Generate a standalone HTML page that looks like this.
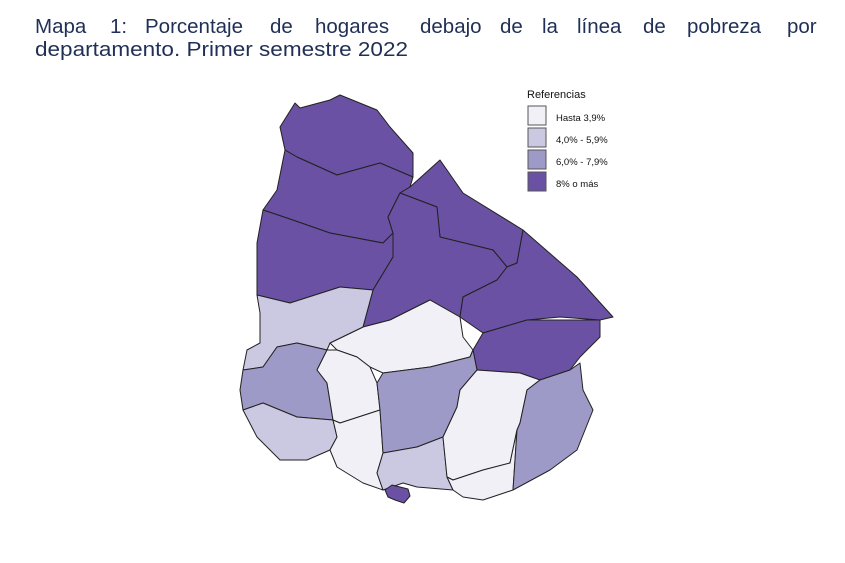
<!DOCTYPE html>
<html><head><meta charset="utf-8"><style>
html,body{margin:0;padding:0;background:#fff;}
svg{display:block;}
</style></head><body>
<svg width="845" height="563" viewBox="0 0 845 563" xmlns="http://www.w3.org/2000/svg">
<rect width="845" height="563" fill="#fff"/>
<g font-family="Liberation Sans, Arial, sans-serif" font-size="20.5" fill="#1f2f55">
<text x="35" y="33">Mapa</text>
<text x="110" y="33">1:</text>
<text x="145" y="33">Porcentaje</text>
<text x="270" y="33">de</text>
<text x="315" y="33">hogares</text>
<text x="420" y="33">debajo</text>
<text x="500" y="33">de</text>
<text x="542" y="33">la</text>
<text x="577" y="33">línea</text>
<text x="643" y="33">de</text>
<text x="687" y="33">pobreza</text>
<text x="787" y="33">por</text>
<text x="35" y="56" textLength="373" lengthAdjust="spacingAndGlyphs">departamento. Primer semestre 2022</text>
</g>
<g stroke="#222" stroke-width="1" stroke-linejoin="round">
<polygon fill="#6a51a3" points="295,103 300,108 330,100 340,95 377,110 390,127 413,153 413,177 380,163 337,175 297,157 285,150 280,127"/>
<polygon fill="#6a51a3" points="285,150 297,157 337,175 380,163 413,177 410,187 400,193 388,217 393,233 383,243 330,233 287,218 263,210 277,190"/>
<polygon fill="#6a51a3" points="263,210 287,218 330,233 383,243 393,233 393,257 373,290 340,287 290,303 257,295 257,243"/>
<polygon fill="#6a51a3" points="410,187 440,160 463,193 523,230 517,263 507,267 493,250 440,237 437,207 400,193"/>
<polygon fill="#6a51a3" points="400,193 437,207 440,237 493,250 507,267 497,280 463,297 460,317 430,300 390,320 363,327 373,290 393,257 393,233 388,217"/>
<polygon fill="#6a51a3" points="507,267 517,263 523,230 577,277 613,317 600,320 560,317 527,320 483,333 460,317 463,297 497,280"/>
<polygon fill="#6a51a3" points="483,333 527,320 600,320 600,337 580,357 570,370 540,380 520,373 477,370 473,350"/>
<polygon fill="#f2f0f7" points="330,343 363,327 390,320 430,300 460,317 463,337 473,350 470,357 430,367 383,373 370,367 357,357 337,350"/>
<polygon fill="#cbc9e2" points="257,295 290,303 340,287 373,290 363,327 330,343 327,350 297,343 277,347 263,367 243,370 247,350 260,343 260,313"/>
<polygon fill="#9e9ac8" points="243,370 263,367 277,347 297,343 327,350 317,370 327,383 333,420 297,417 263,403 243,410 240,390"/>
<polygon fill="#cbc9e2" points="243,410 263,403 297,417 333,420 337,437 330,450 307,460 280,460 257,437"/>
<polygon fill="#f2f0f7" points="327,350 337,350 357,357 370,367 377,383 380,410 340,423 333,420 327,383 317,370"/>
<polygon fill="#f2f0f7" points="333,420 340,423 380,410 383,453 377,473 383,490 363,483 337,467 330,450 337,437"/>
<polygon fill="#9e9ac8" points="377,383 383,373 430,367 470,357 473,350 477,370 460,390 457,407 443,437 417,447 383,453 380,410"/>
<polygon fill="#cbc9e2" points="383,453 417,447 443,437 447,477 453,490 417,487 403,483 383,490 377,473"/>
<polygon fill="#f2f0f7" points="477,370 520,373 540,380 527,390 520,423 517,430 510,463 483,470 453,480 447,477 443,437 457,407 460,390"/>
<polygon fill="#f2f0f7" points="447,477 453,480 483,470 510,463 517,430 513,490 483,500 463,497 453,490"/>
<polygon fill="#9e9ac8" points="540,380 570,370 580,363 583,390 593,410 577,450 550,470 513,490 517,430 520,423 527,390"/>
<polygon fill="#6a51a3" points="385,490 392,485 400,487 408,489 410,496 404,503 395,500 388,497"/>
</g>
<g font-family="Liberation Sans, Arial, sans-serif" fill="#111">
<text x="527" y="98" font-size="11">Referencias</text>
<g stroke="#555" stroke-width="1">
<rect x="528" y="106" width="18" height="19" fill="#f2f0f7"/>
<rect x="528" y="128" width="18" height="19" fill="#cbc9e2"/>
<rect x="528" y="150" width="18" height="19" fill="#9e9ac8"/>
<rect x="528" y="172" width="18" height="19" fill="#6a51a3"/>
</g>
<text x="556" y="121" font-size="9.5">Hasta 3,9%</text>
<text x="556" y="143" font-size="9.5">4,0% - 5,9%</text>
<text x="556" y="165" font-size="9.5">6,0% - 7,9%</text>
<text x="556" y="187" font-size="9.5">8% o más</text>
</g>
</svg>
</body></html>
